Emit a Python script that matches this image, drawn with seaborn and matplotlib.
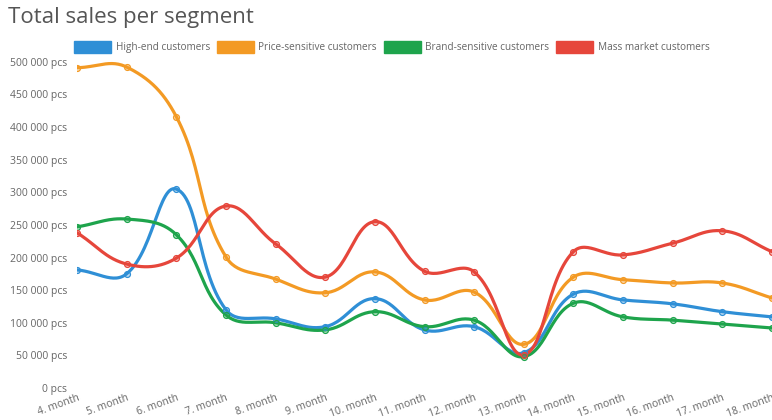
import numpy as np
import pandas as pd
import matplotlib
matplotlib.use("Agg")
import matplotlib.pyplot as plt
from matplotlib.patches import Patch
from matplotlib.ticker import FuncFormatter
import seaborn as sns

months = list(range(4, 19))
month_labels = [f"{m}. month" for m in months]

high_end = [181000, 175000, 305000, 120000, 106000, 94000, 137000, 89000, 94000,
            54000, 144000, 135000, 129000, 117000, 109000]
price_sensitive = [491000, 492000, 416000, 201000, 167000, 146000, 178000, 135000,
                   147000, 67000, 170000, 166000, 161000, 161000, 138000]
brand_sensitive = [247000, 259000, 235000, 112000, 100000, 89000, 117000, 94000,
                   104000, 48000, 130000, 109000, 104000, 98000, 92000]
mass_market = [238000, 190000, 199000, 279000, 221000, 170000, 255000, 179000,
               178000, 51000, 209000, 204000, 222000, 241000, 209000]

series_names = ["High-end customers", "Price-sensitive customers",
                "Brand-sensitive customers", "Mass market customers"]
series_values = [high_end, price_sensitive, brand_sensitive, mass_market]
colors = ["#2f8fd6", "#f39a24", "#1ea44c", "#e6463b"]

y_ticks = list(range(0, 500001, 50000))

sns.set_theme(style="white")
plt.rcParams["font.family"] = ["Open Sans", "DejaVu Sans"]

W, H = 772, 420
fig = plt.figure(figsize=(W / 100, H / 100), dpi=100)
ax = fig.add_axes([77 / W, 32 / H, 1 - 77 / W, (388 - 54) / H])

# scale factors (display pixels per data unit) used for the bezier tension
px_x = 49.7
px_y = 326 / 500000
tension = 0.4


def bezier_curve(xs, ys, steps=30):
    """Cubic bezier through the points with tension-based control points."""
    P = np.column_stack([np.asarray(xs, float) * px_x, np.asarray(ys, float) * px_y])
    n = len(P)
    prev_ctrl = np.zeros_like(P)
    next_ctrl = np.zeros_like(P)
    for i in range(n):
        p0 = P[i - 1] if i > 0 else P[i]
        p1 = P[i]
        p2 = P[i + 1] if i < n - 1 else P[i]
        d01 = np.hypot(*(p1 - p0))
        d12 = np.hypot(*(p2 - p1))
        tot = d01 + d12
        s01 = d01 / tot if tot else 0
        s12 = d12 / tot if tot else 0
        prev_ctrl[i] = p1 - tension * s01 * (p2 - p0)
        next_ctrl[i] = p1 + tension * s12 * (p2 - p0)
    t = np.linspace(0, 1, steps)[:, None]
    segs = []
    for i in range(n - 1):
        a, b, c, d = P[i], next_ctrl[i], prev_ctrl[i + 1], P[i + 1]
        seg = ((1 - t) ** 3) * a + 3 * ((1 - t) ** 2) * t * b + 3 * (1 - t) * t ** 2 * c + t ** 3 * d
        segs.append(seg if i == 0 else seg[1:])
    pts = np.vstack(segs)
    return pts[:, 0] / px_x, pts[:, 1] / px_y


for name, vals, col in zip(series_names, series_values, colors):
    cx, cy = bezier_curve(months, vals)
    curve = pd.DataFrame({"month": cx, "value": cy})
    sns.lineplot(data=curve, x="month", y="value", sort=False, estimator=None,
                 color=col, linewidth=2.3, ax=ax, zorder=2)
    pts = pd.DataFrame({"month": months, "value": vals})
    light = matplotlib.colors.to_rgba(col, 0.3)
    sns.scatterplot(data=pts, x="month", y="value", s=18, facecolor=light,
                    edgecolor=col, linewidth=0.9, ax=ax, zorder=3)

ax.set_xlim(4, 18)
ax.set_ylim(0, 512000)
ax.set_xticks(months)
ax.set_xticklabels(month_labels, rotation=20, ha="right", va="top",
                   rotation_mode="anchor")
ax.set_yticks(y_ticks)
ax.yaxis.set_major_formatter(FuncFormatter(lambda v, _: f"{int(v):,}".replace(",", " ") + " pcs"))
ax.tick_params(axis="both", length=0, labelsize=7.5, labelcolor="#666666")
ax.tick_params(axis="y", pad=7)
ax.tick_params(axis="x", pad=3)
ax.set_xlabel("")
ax.set_ylabel("")
ax.grid(False)
for s in ax.spines.values():
    s.set_visible(False)

fig.text(8 / W, 1 - 7 / H, "Total sales per segment", fontsize=16, color="#555555",
         ha="left", va="top")

handles = [Patch(facecolor=c, edgecolor=c) for c in colors]
fig.legend(handles, series_names, loc="upper left", bbox_to_anchor=(74 / W, 1 - 41 / H),
           ncol=4, frameon=False, fontsize=7.2, labelcolor="#666666",
           handlelength=3.7, handleheight=1.4, handletextpad=0.45,
           columnspacing=0.7, borderpad=0, borderaxespad=0)

fig.savefig("out.png", dpi=100)
